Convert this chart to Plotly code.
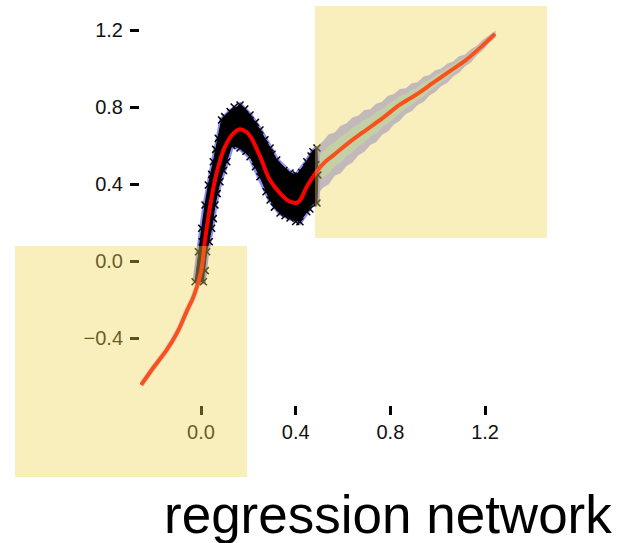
import plotly.graph_objects as go

# ---- data ----
mean_x = [-0.253, -0.2, -0.145, -0.1, -0.06, -0.03, 0.0, 0.017, 0.038, 0.066, 0.10, 0.137, 0.165,
          0.19, 0.21, 0.25, 0.29, 0.334, 0.376, 0.41, 0.447, 0.48, 0.52, 0.56, 0.63, 0.70, 0.77,
          0.84, 0.91, 0.98, 1.05, 1.12, 1.19, 1.242]
mean_y = [-0.644, -0.552, -0.462, -0.37, -0.26, -0.18, -0.055, 0.109, 0.282, 0.457, 0.59, 0.663, 0.684,
          0.672, 0.645, 0.542, 0.423, 0.352, 0.308, 0.305, 0.386, 0.45, 0.51, 0.55, 0.62, 0.683, 0.745,
          0.812, 0.865, 0.925, 0.985, 1.045, 1.12, 1.18]

band_x = [0.44, 0.465, 0.49, 0.515, 0.54, 0.565, 0.59, 0.615, 0.64, 0.665, 0.69, 0.715, 0.74, 0.765,
          0.79, 0.815, 0.84, 0.865, 0.89, 0.915, 0.94, 0.965, 0.99, 1.015, 1.04, 1.065, 1.09, 1.115,
          1.14, 1.165, 1.19, 1.215, 1.245]
outer_hi = [0.466, 0.524, 0.593, 0.622, 0.658, 0.668, 0.702, 0.715, 0.746, 0.756, 0.784, 0.788, 0.817,
            0.827, 0.858, 0.868, 0.894, 0.898, 0.923, 0.929, 0.958, 0.966, 0.991, 1.000, 1.025, 1.036,
            1.063, 1.073, 1.100, 1.118, 1.148, 1.169, 1.198]
outer_lo = [0.277, 0.317, 0.340, 0.381, 0.399, 0.443, 0.456, 0.494, 0.512, 0.549, 0.568, 0.602, 0.617,
            0.656, 0.673, 0.709, 0.729, 0.763, 0.778, 0.810, 0.826, 0.860, 0.878, 0.909, 0.925, 0.959,
            0.978, 1.010, 1.031, 1.067, 1.093, 1.129, 1.162]
inner_hi = [0.424, 0.477, 0.535, 0.567, 0.599, 0.617, 0.647, 0.665, 0.693, 0.709, 0.734, 0.747, 0.773,
            0.788, 0.815, 0.832, 0.857, 0.868, 0.890, 0.902, 0.928, 0.941, 0.965, 0.979, 1.003, 1.019,
            1.042, 1.058, 1.084, 1.107, 1.134, 1.159, 1.188]
inner_lo = [0.319, 0.364, 0.396, 0.434, 0.456, 0.493, 0.512, 0.544, 0.565, 0.596, 0.616, 0.644, 0.662,
            0.695, 0.714, 0.745, 0.767, 0.794, 0.810, 0.836, 0.855, 0.884, 0.903, 0.930, 0.948, 0.977,
            0.997, 1.024, 1.047, 1.079, 1.106, 1.139, 1.172]

# outline of the cloud of observed points (crosses)
cloud_x = [-0.025, -0.011, 0.003, 0.017, 0.031, 0.052, 0.073, 0.087, 0.123, 0.165, 0.207, 0.249, 0.292,
           0.320, 0.376, 0.404, 0.447, 0.473, 0.490, 0.494, 0.490, 0.473, 0.447, 0.418, 0.376, 0.334,
           0.292, 0.249, 0.207, 0.165, 0.130, 0.109, 0.080, 0.059, 0.045, 0.024, 0.010]
cloud_y = [-0.108, 0.048, 0.170, 0.291, 0.395, 0.516, 0.637, 0.732, 0.776, 0.810, 0.758, 0.681, 0.587,
           0.525, 0.457, 0.447, 0.516, 0.568, 0.587, 0.447, 0.301, 0.301, 0.256, 0.204, 0.223, 0.249,
           0.317, 0.438, 0.542, 0.587, 0.600, 0.516, 0.412, 0.291, 0.170, 0.048, -0.108]
extra_x = [0.0, 0.005, 0.028, 0.045, 0.062, 0.10, 0.14, 0.185, 0.23, 0.27, 0.30, 0.35, 0.39, 0.425,
           0.465, 0.485, 0.46, 0.40, 0.355, 0.31, 0.275, 0.23, 0.19, 0.14, 0.095, 0.068, 0.052, 0.035, 0.018]
extra_y = [-0.02, 0.10, 0.23, 0.45, 0.58, 0.75, 0.80, 0.79, 0.72, 0.63, 0.555, 0.47, 0.44, 0.46,
           0.545, 0.50, 0.27, 0.205, 0.235, 0.28, 0.36, 0.49, 0.57, 0.61, 0.47, 0.35, 0.22, 0.10, -0.05]

x_ticks = [0.0, 0.4, 0.8, 1.2]
y_ticks = [-0.4, 0.0, 0.4, 0.8, 1.2]
title_text = "regression network"

# ---- styles ----
OUTER = "rgb(168,168,252)"
INNER = "rgb(168,206,218)"
YELLOW = "rgba(240,212,80,0.38)"

fig = go.Figure()
fig.add_trace(go.Scatter(x=band_x + band_x[::-1], y=outer_hi + outer_lo[::-1], fill="toself",
                         fillcolor=OUTER, line=dict(width=0), mode="lines", hoverinfo="skip"))
fig.add_trace(go.Scatter(x=band_x + band_x[::-1], y=inner_hi + inner_lo[::-1], fill="toself",
                         fillcolor=INNER, line=dict(width=0), mode="lines", hoverinfo="skip"))
# thin halo along the left extrapolation
fig.add_trace(go.Scatter(x=mean_x[:8], y=mean_y[:8], mode="lines", line_shape="spline",
                         line=dict(color="rgba(168,168,252,0.45)", width=6), hoverinfo="skip"))
# observations cloud
fig.add_trace(go.Scatter(x=cloud_x + cloud_x[:1], y=cloud_y + cloud_y[:1], mode="lines",
                         line=dict(color="rgb(140,140,250)", width=5), hoverinfo="skip"))
fig.add_trace(go.Scatter(x=cloud_x + cloud_x[:1], y=cloud_y + cloud_y[:1], fill="toself",
                         fillcolor="black", mode="lines", line=dict(color="black", width=1)))
fig.add_trace(go.Scatter(x=cloud_x + extra_x, y=cloud_y + extra_y, mode="markers",
                         marker=dict(symbol="x-thin", size=7, color="black",
                                     line=dict(color="black", width=1.5))))
# predictive mean
fig.add_trace(go.Scatter(x=mean_x, y=mean_y, mode="lines",
                         line=dict(color="rgb(255,0,0)", width=4), line_shape="spline"))

L, R, T, B = 140, 500, 25, 405
W, H = 620, 543


def px_x(p):
    return (p - L) / (R - L)


def px_y(p):
    return (B - p) / (B - T)


fig.add_shape(type="rect", xref="paper", yref="paper", x0=px_x(15), x1=px_x(247),
              y0=px_y(477), y1=px_y(246), fillcolor=YELLOW, line=dict(width=0), layer="above")
fig.add_shape(type="rect", xref="paper", yref="paper", x0=px_x(315), x1=px_x(547),
              y0=px_y(238), y1=px_y(6), fillcolor=YELLOW, line=dict(width=0), layer="above")

fig.add_annotation(text=title_text, xref="paper", yref="paper", x=px_x(388), y=px_y(514),
                   xanchor="center", yanchor="middle", showarrow=False,
                   font=dict(family="Liberation Sans, Arial", size=53, color="black"))

axis_common = dict(showgrid=False, zeroline=False, showline=False, ticks="outside",
                   ticklen=9, tickwidth=3, tickcolor="black", tickformat=".1f",
                   tickfont=dict(family="Liberation Sans, Arial", size=20, color="#111"))
fig.update_xaxes(range=[(L - 201) / 236.7, (R - 201) / 236.7], tickvals=x_ticks, **axis_common)
fig.update_yaxes(range=[(261 - B) / 192.5, (261 - T) / 192.5], tickvals=y_ticks,
                 ticklabelstandoff=3, **axis_common)

fig.update_layout(width=W, height=H, showlegend=False, plot_bgcolor="white", paper_bgcolor="white",
                  margin=dict(l=L, r=W - R, t=T, b=H - B, pad=0))
fig.write_html("out.html")
